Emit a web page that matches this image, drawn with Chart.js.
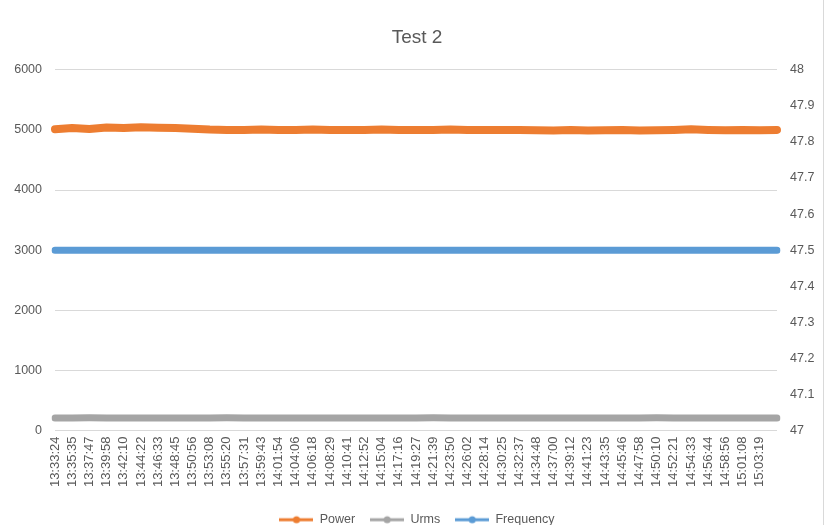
<!DOCTYPE html>
<html>
<head>
<meta charset="utf-8">
<script src="https://cdn.jsdelivr.net/npm/chart.js@4/dist/chart.umd.min.js"></script>
<style>
  html, body { margin: 0; padding: 0; background: #fff; overflow: hidden; }
  #wrap { width: 834px; height: 525px; overflow: hidden; }
</style>
</head>
<body>
<div id="wrap"><canvas id="myChart" width="834" height="536"></canvas></div>
<script>
// time stamps (last one is only there so the lines run past the last label)
var times = ['13:33:24', '13:35:35', '13:37:47', '13:39:58', '13:42:10', '13:44:22', '13:46:33',
    '13:48:45', '13:50:56', '13:53:08', '13:55:20', '13:57:31', '13:59:43', '14:01:54',
    '14:04:06', '14:06:18', '14:08:29', '14:10:41', '14:12:52', '14:15:04', '14:17:16',
    '14:19:27', '14:21:39', '14:23:50', '14:26:02', '14:28:14', '14:30:25', '14:32:37',
    '14:34:48', '14:37:00', '14:39:12', '14:41:23', '14:43:35', '14:45:46', '14:47:58',
    '14:50:10', '14:52:21', '14:54:33', '14:56:44', '14:58:56', '15:01:08', '15:03:19',
    '15:04:09'];

var power = [5010, 5030, 5015, 5040, 5030, 5045, 5035, 5030, 5020, 5005, 5000, 5000, 5005, 5000,
    5000, 5005, 5000, 5000, 5000, 5005, 5000, 5000, 5000, 5005, 5000, 5000, 5000, 5000,
    4995, 4990, 5000, 4990, 4995, 5000, 4990, 4995, 5000, 5010, 5000, 4995, 5000, 4995,
    5000];

var urms = [210, 210, 211, 210, 210, 210, 209, 210, 210, 210, 211, 210, 210, 210,
    210, 210, 210, 209, 210, 210, 210, 210, 211, 210, 210, 210, 210, 210,
    210, 209, 210, 210, 210, 210, 210, 211, 210, 210, 210, 210, 210, 210,
    210];

var frequency = [47.5, 47.5, 47.5, 47.5, 47.5, 47.5, 47.5, 47.5, 47.5, 47.5, 47.5, 47.5, 47.5, 47.5,
    47.5, 47.5, 47.5, 47.5, 47.5, 47.5, 47.5, 47.5, 47.5, 47.5, 47.5, 47.5, 47.5, 47.5,
    47.5, 47.5, 47.5, 47.5, 47.5, 47.5, 47.5, 47.5, 47.5, 47.5, 47.5, 47.5, 47.5, 47.5,
    47.5];

var leftTicks = [0, 1000, 2000, 3000, 4000, 5000, 6000];
var rightTicks = [47, 47.1, 47.2, 47.3, 47.4, 47.5, 47.6, 47.7, 47.8, 47.9, 48];

var textColor = '#595959';
var gridColor = '#D9D9D9';
var fontFamily = '"Liberation Sans", Arial, sans-serif';

// small line-with-dot marker for the legend
var legendMarker = function (color) {
    var c = document.createElement('canvas');
    c.width = 34;
    c.height = 10;
    var g = c.getContext('2d');
    g.strokeStyle = color;
    g.lineWidth = 3;
    g.beginPath();
    g.moveTo(0, 5);
    g.lineTo(34, 5);
    g.stroke();
    g.fillStyle = color;
    g.beginPath();
    g.arc(17, 5, 3.5, 0, Math.PI * 2);
    g.fill();
    return c;
};

var frame = {
    id: 'frame',
    afterDraw: function (chart) {
        var ctx = chart.ctx;
        ctx.save();
        ctx.strokeStyle = gridColor;
        ctx.lineWidth = 1;
        ctx.beginPath();
        ctx.moveTo(823.5, 0);
        ctx.lineTo(823.5, chart.height);
        ctx.stroke();
        ctx.restore();
    }
};

var ctx = document.getElementById('myChart');
var myChart = new Chart(ctx, {
    type: 'line',
    plugins: [frame],
    data: {
        labels: times,
        datasets: [{
            label: 'Power',
            data: power,
            yAxisID: 'y',
            borderColor: '#ED7D31',
            backgroundColor: '#ED7D31',
            borderWidth: 8,
            borderCapStyle: 'round',
            borderJoinStyle: 'round',
            pointRadius: 0,
            pointHoverRadius: 0,
            pointStyle: legendMarker('#ED7D31'),
            tension: 0
        }, {
            label: 'Urms',
            data: urms,
            yAxisID: 'y',
            borderColor: '#A5A5A5',
            backgroundColor: '#A5A5A5',
            borderWidth: 7,
            borderCapStyle: 'round',
            pointRadius: 0,
            pointHoverRadius: 0,
            pointStyle: legendMarker('#A5A5A5'),
            tension: 0
        }, {
            label: 'Frequency',
            data: frequency,
            yAxisID: 'y1',
            borderColor: '#5B9BD5',
            backgroundColor: '#5B9BD5',
            borderWidth: 7,
            borderCapStyle: 'round',
            pointRadius: 0,
            pointHoverRadius: 0,
            pointStyle: legendMarker('#5B9BD5'),
            tension: 0
        }]
    },
    options: {
        responsive: false,
        animation: false,
        events: [],
        layout: { padding: { left: 0, right: 0, top: 0, bottom: 0 } },
        plugins: {
            title: {
                display: true,
                text: 'Test 2',
                color: textColor,
                font: { family: fontFamily, size: 19, weight: 'normal' },
                padding: { top: 26, bottom: 21 }
            },
            legend: {
                position: 'bottom',
                labels: {
                    usePointStyle: true,
                    pointStyleWidth: 34,
                    padding: 15,
                    color: textColor,
                    font: { family: fontFamily, size: 12.5 }
                }
            },
            tooltip: { enabled: false }
        },
        scales: {
            x: {
                offset: false,
                afterFit: function (scale) { scale.height = 68; },
                grid: { display: false, drawTicks: false },
                border: { display: false },
                ticks: {
                    autoSkip: false,
                    maxRotation: 90,
                    minRotation: 90,
                    padding: 6,
                    color: textColor,
                    font: { family: fontFamily, size: 13 },
                    callback: function (value, index) {
                        return index === times.length - 1 ? '' : times[index];
                    }
                }
            },
            y: {
                position: 'left',
                min: leftTicks[0],
                max: leftTicks[leftTicks.length - 1],
                afterBuildTicks: function (scale) {
                    scale.ticks = leftTicks.map(function (v) { return {value: v}; });
                },
                afterFit: function (scale) { scale.width = 55; },
                grid: { color: gridColor, lineWidth: 1, drawTicks: false },
                border: { display: false },
                ticks: {
                    padding: 13,
                    color: textColor,
                    font: { family: fontFamily, size: 12.5 },
                    callback: function (v) { return String(v); }
                }
            },
            y1: {
                position: 'right',
                min: rightTicks[0],
                max: rightTicks[rightTicks.length - 1],
                afterBuildTicks: function (scale) {
                    scale.ticks = rightTicks.map(function (v) { return {value: v}; });
                },
                afterFit: function (scale) { scale.width = 57; },
                grid: { display: false, drawTicks: false },
                border: { display: false },
                ticks: {
                    padding: 13,
                    color: textColor,
                    font: { family: fontFamily, size: 12.5 },
                    callback: function (v) { return String(Math.round(v * 10) / 10); }
                }
            }
        }
    }
});
</script>
</body>
</html>
